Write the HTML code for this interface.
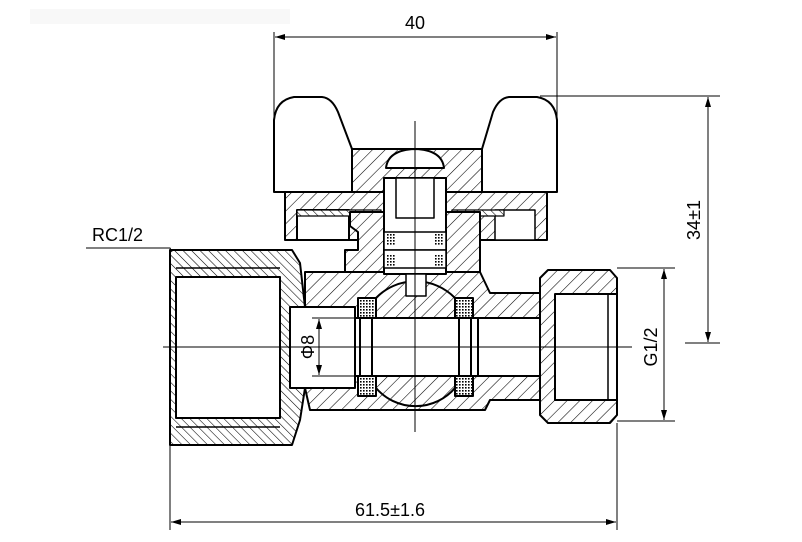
<!DOCTYPE html>
<html><head><meta charset="utf-8"><style>
html,body{margin:0;padding:0;background:#fff;}
svg{display:block;font-family:"Liberation Sans","DejaVu Sans",sans-serif;}
</style></head><body>
<svg width="802" height="542" viewBox="0 0 802 542" xmlns="http://www.w3.org/2000/svg">
<defs>
<pattern id="h" width="9" height="9" patternUnits="userSpaceOnUse" patternTransform="rotate(45)">
<rect width="9" height="9" fill="#fff"/><line x1="0" y1="0" x2="0" y2="9" stroke="#000" stroke-width="1.1"/></pattern>
<pattern id="h2" width="6" height="6" patternUnits="userSpaceOnUse" patternTransform="rotate(-45)">
<rect width="6" height="6" fill="#fff"/><line x1="0" y1="0" x2="0" y2="6" stroke="#000" stroke-width="1.1"/></pattern>
<pattern id="x" width="3" height="3" patternUnits="userSpaceOnUse">
<rect width="3" height="3" fill="#fff"/><rect width="1.6" height="1.6" fill="#000"/></pattern>
<marker id="a" viewBox="0 0 10 6" refX="10" refY="3" markerWidth="10" markerHeight="6" orient="auto-start-reverse" markerUnits="userSpaceOnUse"><path d="M0,0 L10,3 L0,6z" fill="#000"/></marker>
</defs>
<rect x="30" y="9" width="260" height="15" fill="#f8f8f8"/>
<g stroke="#000" stroke-width="2" stroke-linejoin="round">
<path d="M274,192 L274,120 Q276,100 294,97 L322,97 Q332,98 338,112 L352,149 L352,192 Z" fill="#fff"/>
<path d="M557,192 L557,120 Q555,100 537,97 L509,97 Q499,98 493,112 L482,149 L482,192 Z" fill="#fff"/>
<rect x="352" y="149" width="130" height="43" fill="url(#h)"/>
<rect x="285" y="192" width="262" height="48" fill="url(#h)"/>
<rect x="297" y="210" width="52" height="30" fill="#fff"/>
<rect x="495" y="210" width="40" height="30" fill="#fff" stroke-width="1.5"/>
<rect x="297" y="210" width="84" height="6" fill="url(#h2)" stroke-width="1.2"/>
<rect x="452" y="210" width="52" height="6" fill="url(#h2)" stroke-width="1.2"/>
<path d="M350,212 L480,212 L480,272 L345,272 L345,250 L358,250 L358,232 L350,226 Z" fill="url(#h)"/>
<path d="M170,250 L292,250 L300,263 L305,307 L305,388 L300,420 L292,445 L170,445 Z" fill="url(#h2)"/>
<rect x="176" y="277" width="104" height="141" fill="#fff"/>
<line x1="176" y1="268" x2="280" y2="268" stroke-width="1.5"/>
<line x1="176" y1="427" x2="280" y2="427" stroke-width="1.5"/>
<path d="M305,272 L480,272 L490,293 L540,293 L540,400 L490,400 L485,410 L310,410 L305,388 Z" fill="url(#h)"/>
<rect x="290" y="307" width="65" height="81" fill="#fff"/>
<rect x="478" y="318" width="77" height="58" fill="#fff"/>
<rect x="358" y="298" width="18" height="20" fill="url(#x)"/>
<rect x="455" y="298" width="18" height="20" fill="url(#x)"/>
<rect x="358" y="376" width="18" height="20" fill="url(#x)"/>
<rect x="455" y="376" width="18" height="20" fill="url(#x)"/>
<path d="M376,298 A55,55 0 0 1 455,298 L455,318 L376,318 Z" fill="url(#h)"/>
<path d="M376,376 L455,376 L455,388 A52,52 0 0 1 376,388 Z" fill="url(#h)"/>
<rect x="355" y="318" width="123" height="58" fill="#fff"/>
<line x1="360" y1="318" x2="360" y2="376"/><line x1="372" y1="318" x2="372" y2="376"/>
<line x1="459" y1="318" x2="459" y2="376"/><line x1="471" y1="318" x2="471" y2="376"/>
<rect x="384" y="178" width="62" height="96" fill="#fff"/>
<rect x="396" y="178" width="38" height="40" fill="#fff" stroke-width="1.5"/>
<rect x="384" y="232" width="62" height="18" fill="#fff" stroke-width="1.5"/>
<rect x="384" y="250" width="62" height="18" fill="#fff" stroke-width="1.5"/>
<rect x="386" y="234" width="10" height="12" fill="url(#x)" stroke="none"/>
<rect x="434" y="234" width="10" height="12" fill="url(#x)" stroke="none"/>
<rect x="386" y="254" width="10" height="12" fill="url(#x)" stroke="none"/>
<rect x="434" y="254" width="10" height="12" fill="url(#x)" stroke="none"/>
<rect x="406" y="274" width="20" height="22" fill="#fff" stroke-width="1.5"/>
<path d="M386,168 Q388,150 415,149 Q442,150 444,168 Z" fill="#fff"/>
<path d="M540,278 L548,270 L610,270 L617,278 L617,415 L610,423 L548,423 L540,415 Z" fill="url(#h)"/>
<rect x="555" y="294" width="62" height="106" fill="#fff"/>
<line x1="608" y1="294" x2="608" y2="400" stroke-width="1.5"/>
</g>
<g stroke="#000" stroke-width="1" fill="none">
<line x1="163" y1="347" x2="632" y2="347"/>
<line x1="415" y1="121" x2="415" y2="432"/>
<line x1="274" y1="32" x2="274" y2="120"/><line x1="557" y1="32" x2="557" y2="120"/>
<line x1="275" y1="37" x2="556" y2="37" marker-start="url(#a)" marker-end="url(#a)"/>
<line x1="540" y1="96" x2="720" y2="96"/><line x1="685" y1="343" x2="720" y2="343"/>
<line x1="708" y1="97" x2="708" y2="342" marker-start="url(#a)" marker-end="url(#a)"/>
<line x1="617" y1="268" x2="675" y2="268"/><line x1="617" y1="421" x2="675" y2="421"/>
<line x1="664" y1="269" x2="664" y2="420" marker-start="url(#a)" marker-end="url(#a)"/>
<line x1="170" y1="445" x2="170" y2="530"/><line x1="617" y1="423" x2="617" y2="530"/>
<line x1="171" y1="522" x2="616" y2="522" marker-start="url(#a)" marker-end="url(#a)"/>
<line x1="312" y1="318" x2="356" y2="318"/><line x1="312" y1="376" x2="356" y2="376"/>
<line x1="319" y1="319" x2="319" y2="375" marker-start="url(#a)" marker-end="url(#a)"/>
<polyline points="86,248 170,248 172,252"/>
</g>
<g font-size="18" fill="#000">
<text x="415" y="29" text-anchor="middle">40</text>
<text x="92" y="241">RC1/2</text>
<text x="390" y="516" text-anchor="middle">61.5±1.6</text>
<text transform="translate(700,220) rotate(-90)" text-anchor="middle">34±1</text>
<text transform="translate(657,347) rotate(-90)" text-anchor="middle">G1/2</text>
<text transform="translate(314,347) rotate(-90)" text-anchor="middle">Φ8</text>
</g>
</svg>
</body></html>
